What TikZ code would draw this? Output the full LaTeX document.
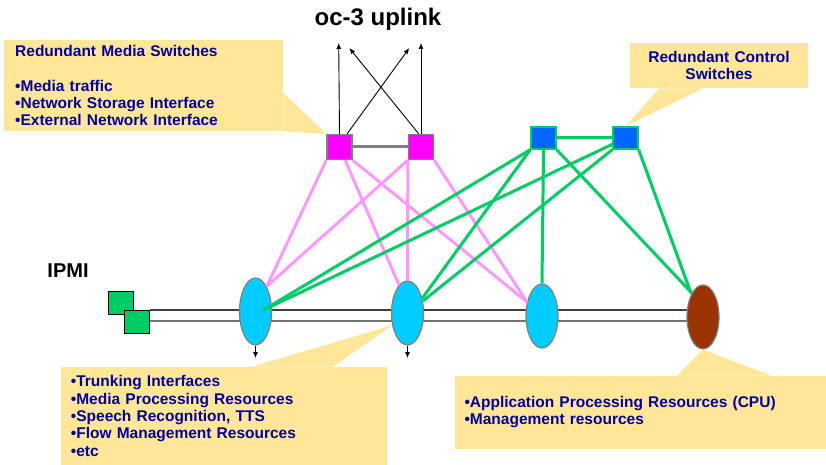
\documentclass[tikz,border=0pt]{standalone}
\usepackage{fontspec}
\setmainfont{Liberation Sans}
\usetikzlibrary{shapes.geometric,backgrounds,arrows.meta}
\definecolor{mediapink}{HTML}{FF00FF}
\definecolor{ctrlblue}{HTML}{0066FF}
\definecolor{ctrlgreen}{HTML}{00CC66}
\definecolor{medialink}{HTML}{FF99FF}
\definecolor{bladecyan}{HTML}{00CCFF}
\definecolor{cpubrown}{HTML}{993300}
\definecolor{noteyellow}{HTML}{FFE699}
\definecolor{notetext}{HTML}{000099}

\begin{document}
\begin{tikzpicture}[x=1pt,y=-1pt,
  mediasw/.style={draw=gray,line width=1.3pt,fill=mediapink,minimum width=25pt,minimum height=25pt,inner sep=0pt},
  ctrlsw/.style={draw=ctrlgreen,line width=1.3pt,fill=ctrlblue,minimum width=25pt,minimum height=22pt,inner sep=0pt},
  blade/.style={ellipse,draw=gray,line width=1.2pt,fill=bladecyan,minimum width=32pt,minimum height=64pt,inner sep=0pt},
  ipmisq/.style={draw=black,line width=1.2pt,fill=ctrlgreen,minimum width=25pt,minimum height=23pt,inner sep=0pt},
  note/.style={fill=noteyellow,text=notetext,font=\fontsize{15.5}{17.3}\selectfont\bfseries,inner ysep=0pt},
  medialine/.style={medialink,line width=3pt},
  ctrlline/.style={ctrlgreen,line width=3pt},
  uplink/.style={-{Latex[length=6pt,width=5pt]},line width=0.9pt}
]
\useasboundingbox (0,0) rectangle (826,465);

\node[font=\fontsize{24}{28}\selectfont\bfseries] (title) at (378,19) {oc-3 uplink};
\node[font=\fontsize{20}{24}\selectfont\bfseries] (ipmi) at (68,271) {IPMI};

\node[mediasw] (m1) at (339.5,147) {};
\node[mediasw] (m2) at (421,147) {};
\node[ctrlsw] (c1) at (543.5,138) {};
\node[ctrlsw] (c2) at (625.5,138) {};

\node[blade,minimum height=67pt] (e1) at (255.5,311.5) {};
\node[blade] (e2) at (407.5,313) {};
\node[blade] (e3) at (542,316) {};
\node[blade,fill=cpubrown] (e4) at (703,317) {};

\node[ipmisq] (sq1) at (121,302.7) {};
\node[ipmisq] (sq2) at (137,322) {};

\begin{pgfonlayer}{background}
\draw[black!75,line width=1.2pt] (sq2.north east) -- (e4.center |- sq2.north east);
\draw[black!55,line width=1.2pt] (sq2.east |- 0,321) -- (e4.center |- 0,321);
\end{pgfonlayer}

\coordinate (up1) at (338.7,43);
\coordinate (up2) at (349.3,48);
\coordinate (up3) at (409.3,48);
\coordinate (up4) at (421,43);
\draw[uplink] (m1.north) -- (up1);
\draw[uplink] (m1.60) -- (up3);
\draw[uplink] (m2.100) -- (up2);
\draw[uplink] (m2.north) -- (up4);

\draw[gray,line width=3pt] (m1) -- (m2);
\draw[ctrlline] (c1) -- (c2);

\draw[medialine] (m1.south west) -- (e1.66);
\draw[medialine] (m1) -- (e2.107);
\draw[medialine] (m1.south east) -- (e3.137);
\draw[medialine] (m2.south west) -- (e1.66);
\draw[medialine] (m2.south west) -- (e2.north);
\draw[medialine] (m2.south east) -- (e3.137);

\coordinate (e1c) at ([xshift=8pt,yshift=1.5pt]e1.center);
\draw[ctrlline] (c1.south west) -- (e1c);
\draw[ctrlline] (c2) -- (e1c);
\draw[ctrlline] (c1.south west) -- (e2.45);
\draw[ctrlline] (c2.south west) -- (e2.38);
\draw[ctrlline] (c1.south) -- (e3.north);
\draw[ctrlline] (c1.south east) -- (e4.115);
\draw[ctrlline] (c2.south east) -- (e4.117);

\coordinate (d1) at (255.5,358);
\coordinate (d2) at (407.5,358);
\draw[uplink] (e1.south) -- (d1);
\draw[uplink] (e2.south) -- (d2);

\node[note,anchor=north west,text width=257pt,inner xsep=11pt,minimum height=91pt,align=left] (medianote) at (4,40) {Redundant Media Switches\\[17.3pt]•Media traffic\\•Network Storage Interface\\•External Network Interface};
\fill[noteyellow] (medianote.east |- 0,93) -- (m1.north west) -- (medianote.south east) -- cycle;

\node[note,text width=160pt,inner xsep=9pt,minimum height=45.6pt,align=center] (ctrlnote) at (719,65.5) {Redundant Control\\Switches};
\fill[noteyellow] ([xshift=-60pt]ctrlnote.south) -- (c2.north) -- ([xshift=-16pt]ctrlnote.south) -- cycle;

\node[note,anchor=north west,text width=306.6pt,inner xsep=9.7pt,minimum height=98.3pt,align=left] (bladenote) at (61,366.7) {•Trunking Interfaces\\•Media Processing Resources\\•Speech Recognition, TTS\\•Flow Management Resources\\•etc};
\fill[noteyellow] ([xshift=190.7pt]bladenote.north west) -- (e2.219) -- ([xshift=272pt]bladenote.north west) -- cycle;

\node[note,anchor=north west,text width=351.7pt,inner xsep=10pt,minimum height=72.6pt,align=left] (cpunote) at (454.3,375.7) {•Application Processing Resources (CPU)\\•Management resources};
\fill[noteyellow] ([xshift=222.7pt]cpunote.north west) -- (e4.south) -- ([xshift=317.4pt]cpunote.north west) -- cycle;
\end{tikzpicture}
\end{document}
